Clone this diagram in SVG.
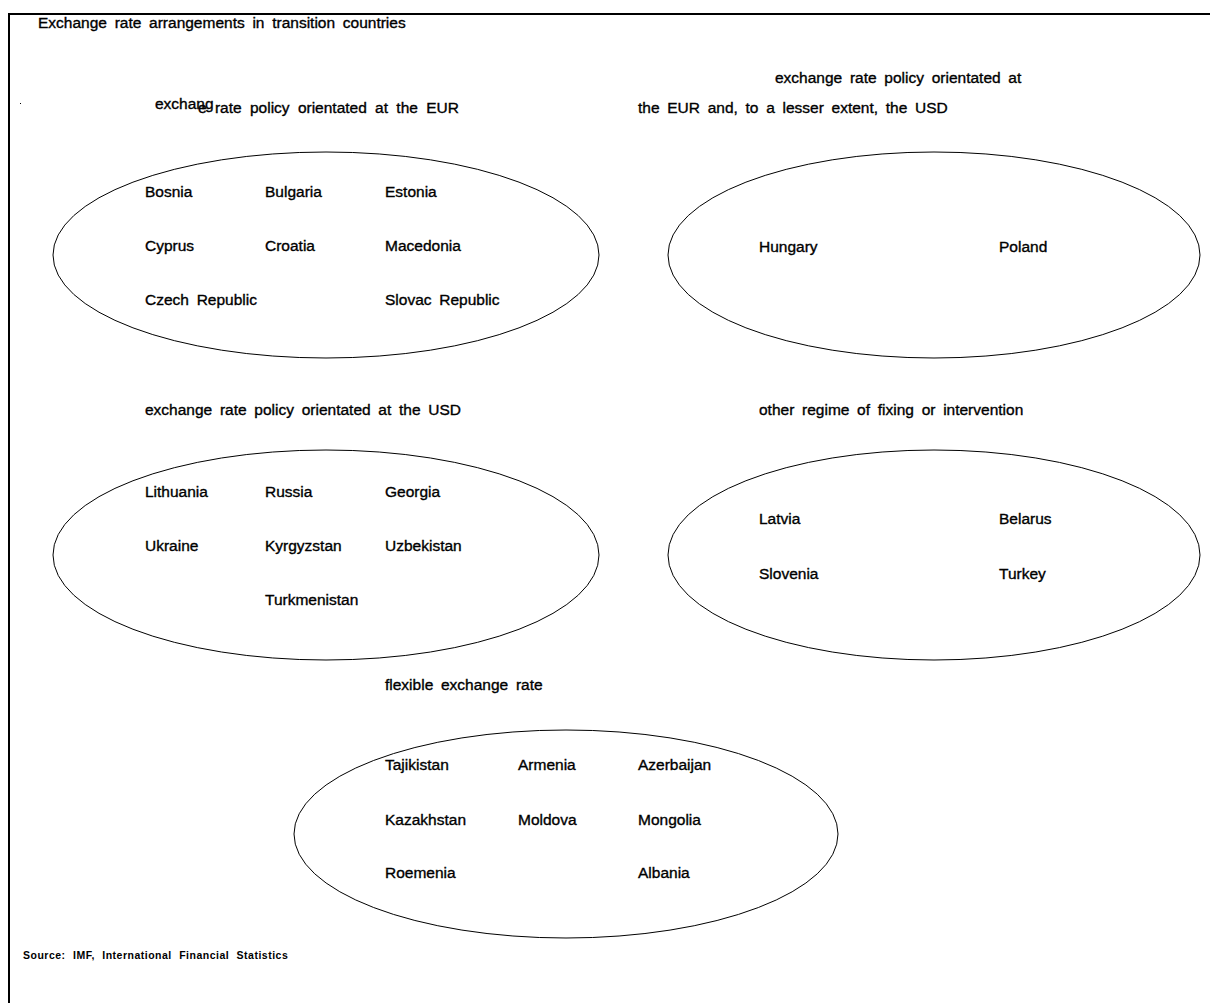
<svg xmlns="http://www.w3.org/2000/svg" width="1210" height="1003" viewBox="0 0 1210 1003">
<style>
text{font-family:"Liberation Sans",Arial,sans-serif;font-size:15.5px;fill:#000;stroke:#000;stroke-width:0.35;word-spacing:3.4px}
.ell{fill:none;stroke:#000;stroke-width:1}
.src{font-size:10.5px;font-weight:bold;stroke:none;letter-spacing:0.5px;word-spacing:4px}
</style>
<rect width="1210" height="1003" fill="#fff"/>
<path d="M9 1003 V14 H1210" fill="none" stroke="#000" stroke-width="2"/>
<rect x="20" y="103" width="1" height="1" fill="#000"/>
<text x="38" y="28">Exchange rate arrangements in transition countries</text>
<g id="eur">
<text x="155" y="109">exchang</text>
<text x="198" y="113" style="word-spacing:4px">e rate policy orientated at the EUR</text>
<ellipse class="ell" cx="326" cy="255" rx="273" ry="103"/>
<text x="145" y="197">Bosnia</text><text x="265" y="197">Bulgaria</text><text x="385" y="197">Estonia</text>
<text x="145" y="251">Cyprus</text><text x="265" y="251">Croatia</text><text x="385" y="251">Macedonia</text>
<text x="145" y="305">Czech Republic</text><text x="385" y="305">Slovac Republic</text>
</g>
<g id="eurusd">
<text x="775" y="83">exchange rate policy orientated at</text>
<text x="638" y="113">the EUR and, to a lesser extent, the USD</text>
<ellipse class="ell" cx="934" cy="255" rx="266" ry="103"/>
<text x="759" y="252">Hungary</text><text x="999" y="252">Poland</text>
</g>
<g id="usd">
<text x="145" y="415">exchange rate policy orientated at the USD</text>
<ellipse class="ell" cx="326" cy="555" rx="273" ry="105"/>
<text x="145" y="497">Lithuania</text><text x="265" y="497">Russia</text><text x="385" y="497">Georgia</text>
<text x="145" y="551">Ukraine</text><text x="265" y="551">Kyrgyzstan</text><text x="385" y="551">Uzbekistan</text>
<text x="265" y="605">Turkmenistan</text>
</g>
<g id="other">
<text x="759" y="415">other regime of fixing or intervention</text>
<ellipse class="ell" cx="934" cy="555" rx="266" ry="105"/>
<text x="759" y="524">Latvia</text><text x="999" y="524">Belarus</text>
<text x="759" y="579">Slovenia</text><text x="999" y="579">Turkey</text>
</g>
<g id="flex">
<text x="385" y="690">flexible exchange rate</text>
<ellipse class="ell" cx="566" cy="834" rx="272" ry="104"/>
<text x="385" y="770">Tajikistan</text><text x="518" y="770">Armenia</text><text x="638" y="770">Azerbaijan</text>
<text x="385" y="825">Kazakhstan</text><text x="518" y="825">Moldova</text><text x="638" y="825">Mongolia</text>
<text x="385" y="878">Roemenia</text><text x="638" y="878">Albania</text>
</g>
<g id="connectors"></g>
<text class="src" x="23" y="959">Source: IMF, International Financial Statistics</text>
</svg>
